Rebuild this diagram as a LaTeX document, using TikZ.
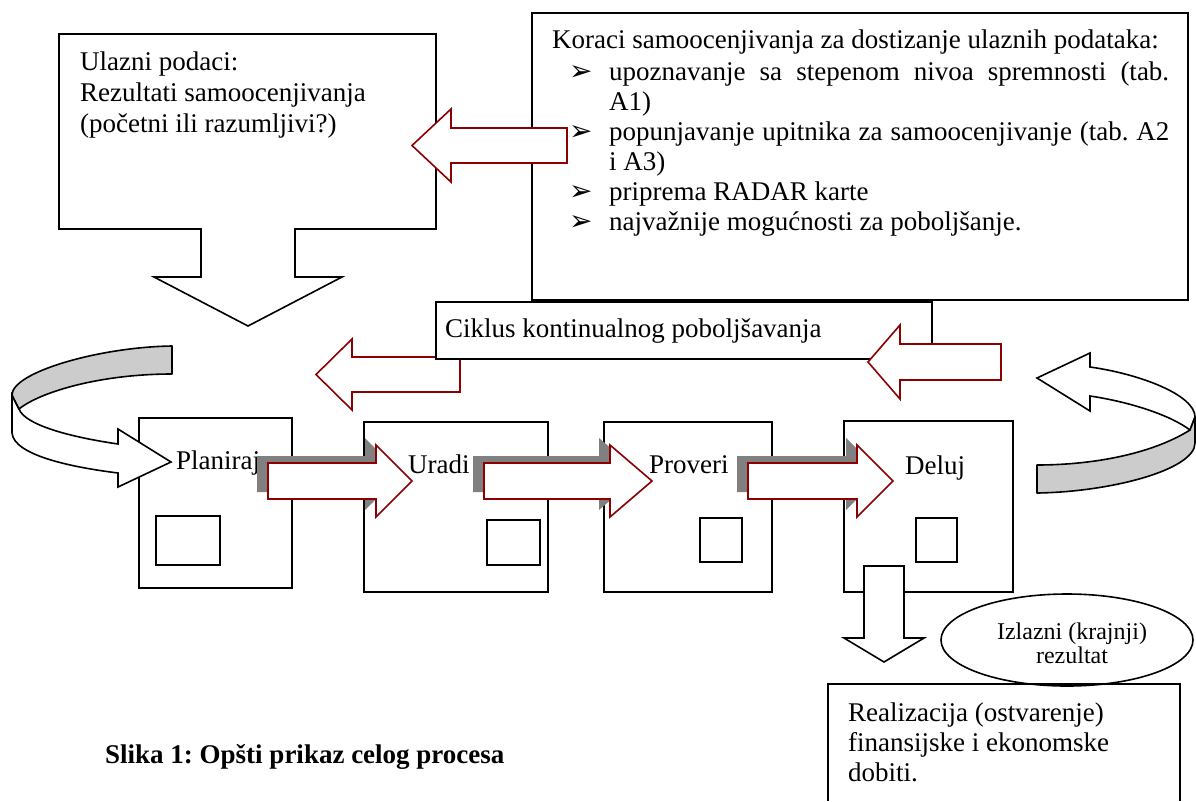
\documentclass[tikz,border=0pt]{standalone}
\usepackage{fontspec}
\setmainfont{Liberation Serif}
\newfontfamily\bulletfont{DejaVu Sans}
\frenchspacing
\definecolor{dred}{RGB}{139,0,0}
\definecolor{shadowgray}{RGB}{128,128,128}
\definecolor{bandgray}{RGB}{204,204,204}
\tikzset{
  box/.style={draw=black,line width=1.6pt,fill=white},
  redarrow/.style={draw=dred,line width=1.6pt,fill=white,line join=miter},
  curvearrow/.style={draw=black,line width=1.6pt,fill=white,line join=miter},
  band/.style={draw=black,line width=1.6pt,fill=bandgray,line join=round},
  lbl/.style={inner sep=0pt,anchor=base west,font=\fontsize{27}{31}\selectfont},
  boldlbl/.style={inner sep=0pt,anchor=base west,font=\fontsize{27}{31}\selectfont\bfseries},
  clbl/.style={inner sep=0pt,anchor=base,font=\fontsize{24}{28}\selectfont},
  bul/.style={inner sep=0pt,anchor=base west,font=\bulletfont\fontsize{28}{30}\selectfont},
}
\newcommand\stepflow[4]{%
  \begin{scope}[shift={(-11,-7)}]
    \fill[shadowgray] (#1,{#4-18}) -- (#2,{#4-18}) -- (#2,{#4-36}) -- (#3,#4) -- (#2,{#4+36}) -- (#2,{#4+18}) -- (#1,{#4+18}) -- cycle;
  \end{scope}
  \draw[redarrow] (#1,{#4-18}) -- (#2,{#4-18}) -- (#2,{#4-36}) -- (#3,#4) -- (#2,{#4+36}) -- (#2,{#4+18}) -- (#1,{#4+18}) -- cycle;
}
\begin{document}
\begin{tikzpicture}[x=1pt,y=-1pt]
\useasboundingbox (0,0) rectangle (1196,801);
\fill[white] (0,0) rectangle (1196,801);

% Input data callout (box with down arrow)
\draw[box,line join=miter] (59,34) -- (436,34) -- (436,229) -- (295,229) -- (295,277) -- (342,277) -- (248,326) -- (154,277) -- (201,277) -- (201,229) -- (59,229) -- cycle;
\node[lbl] (ul1) at (80,70) {Ulazni podaci:};
\node[lbl] (ul2) at (80,101) {Rezultati samoocenjivanja};
\node[lbl] (ul3) at (80,132) {(početni ili razumljivi?)};

% Self-assessment steps box
\draw[box] (532,13) rectangle (1188,300);
\node[lbl] (k0) at (552,48) {Koraci samoocenjivanja za dostizanje ulaznih podataka:};
\node[bul] (b1) at (569,80) {➢};
\node[lbl] (k1) at (609,80) {\makebox[560pt][s]{upoznavanje sa stepenom nivoa spremnosti (tab.}};
\node[lbl] (k1b) at (609,110) {A1)};
\node[bul] (b2) at (569,140) {➢};
\node[lbl] (k2) at (609,140) {\makebox[560pt][s]{popunjavanje upitnika za samoocenjivanje (tab. A2}};
\node[lbl] (k2b) at (609,170) {i A3)};
\node[bul] (b3) at (569,200) {➢};
\node[lbl] (k3) at (609,200) {priprema RADAR karte};
\node[bul] (b4) at (569,230) {➢};
\node[lbl] (k4) at (609,230) {najvažnije mogućnosti za poboljšanje.};

% red arrow from steps box to input box
\draw[redarrow] (567,128) -- (451,128) -- (451,109) -- (412,145.5) -- (451,182) -- (451,163) -- (567,163) -- cycle;

% left red arrow under the cycle box
\draw[redarrow] (460,357) -- (352,357) -- (352,339) -- (316,374.5) -- (352,410) -- (352,392) -- (460,392) -- cycle;

% cycle box
\draw[box] (436,302) rectangle (932,359);
\node[lbl] (cik) at (445,337) {Ciklus kontinualnog poboljšavanja};

% right red arrow
\draw[redarrow] (1001,344) -- (900,344) -- (900,325) -- (868,362) -- (900,399) -- (900,380) -- (1001,380) -- cycle;

% process boxes
\draw[box] (139,418) rectangle (292,588);
\draw[box] (156,516) rectangle (220,565);
\draw[box] (364,422) rectangle (548,592);
\draw[box] (487,520) rectangle (540,565);
\draw[box] (604,422) rectangle (772,592);
\draw[box] (700,518) rectangle (742,562);
\draw[box] (844,421) rectangle (1013,592);
\draw[box] (916,518) rectangle (957,562);
\node[lbl] (plan) at (176,469) {Planiraj};
\node[lbl] (urad) at (408,473) {Uradi};
\node[lbl] (prov) at (649,473) {Proveri};
\node[lbl] (delu) at (905,474) {Deluj};

% step arrows with shadows
\stepflow{268}{376}{412}{481}
\stepflow{484}{610}{652}{481}
\stepflow{748}{857}{893}{481}

% left curved arrow
\draw[curvearrow] (12,395) -- (12,433) .. controls (14,455) and (70,467) .. (118,473) -- (118,487) -- (171,462) -- (118,429) -- (118,444) .. controls (70,437) and (25,425) .. (19,409) -- cycle;
\draw[band] (172,346) .. controls (100,347) and (12,372) .. (12,395) -- (19,409) .. controls (40,392) and (100,374) .. (172,374) -- cycle;

% right curved arrow
\draw[curvearrow] (1037,378) -- (1090,353) -- (1090,367) .. controls (1140,374) and (1195,395) .. (1195,417) -- (1190,430) .. controls (1170,415) and (1130,402) .. (1090,396) -- (1090,411) -- cycle;
\draw[band] (1190,430) .. controls (1150,455) and (1090,465) .. (1037,465) -- (1037,493) .. controls (1110,492) and (1195,470) .. (1195,443) -- (1195,417) -- cycle;

% down arrow from Deluj
\draw[box,line join=miter] (864,566) -- (904,566) -- (904,638) -- (924,638) -- (884,662) -- (844,638) -- (864,638) -- cycle;

% output ellipse
\draw[box] (1067,640) ellipse [x radius=126, y radius=46];
\node[clbl] (iz1) at (1072,639) {Izlazni (krajnji)};
\node[clbl] (iz2) at (1072,663) {rezultat};

% result box (cut at the bottom)
\draw[black,line width=1.6pt] (828,801) -- (828,684) -- (1180,684) -- (1180,801);
\node[lbl] (r1) at (848,721) {Realizacija (ostvarenje)};
\node[lbl] (r2) at (848,751) {finansijske i ekonomske};
\node[lbl] (r3) at (848,781) {dobiti.};

% caption
\node[boldlbl] (cap) at (105,763) {Slika 1: Opšti prikaz celog procesa};
\end{tikzpicture}
\end{document}
